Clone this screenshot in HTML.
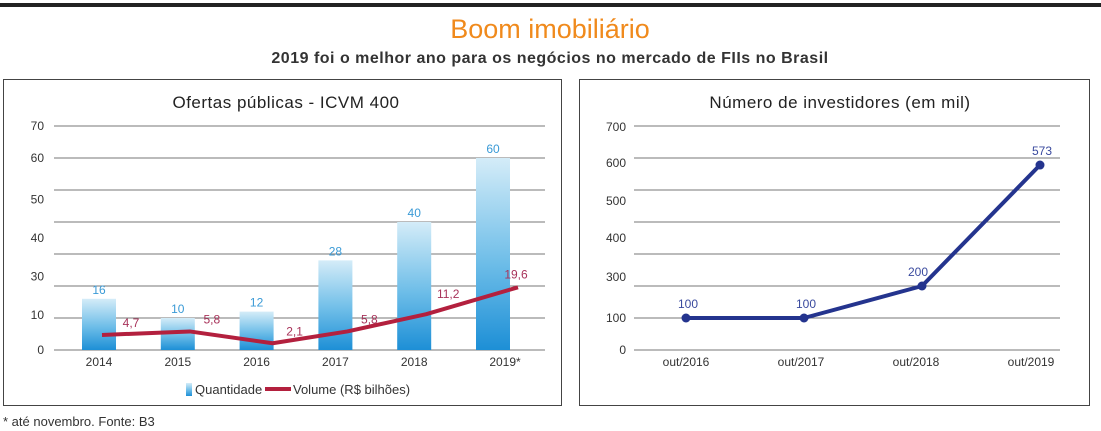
<!DOCTYPE html>
<html><head><meta charset="utf-8"><style>
body{margin:0;background:#fff;width:1101px;height:431px;overflow:hidden;font-family:"Liberation Sans",sans-serif}
svg{display:block}
text{font-family:"Liberation Sans",sans-serif}
</style></head><body>
<svg width="1101" height="431">
<defs>
<linearGradient id="bg" x1="0" y1="0" x2="0" y2="1"><stop offset="0" stop-color="#d4ecf8"/><stop offset="0.55" stop-color="#6dbde8"/><stop offset="1" stop-color="#1d8fd6"/></linearGradient>
</defs>
<rect x="0" y="3" width="1101" height="4" fill="#222"/>
<text x="550" y="38" text-anchor="middle" font-size="27" fill="#f08a1c">Boom imobiliário</text>
<text x="550" y="63" text-anchor="middle" font-size="16" font-weight="bold" fill="#333" letter-spacing="0.5">2019 foi o melhor ano para os negócios no mercado de FIIs no Brasil</text>
<rect x="3.5" y="79.5" width="558" height="326" fill="none" stroke="#444"/>
<rect x="579.5" y="79.5" width="510" height="326" fill="none" stroke="#444"/>
<text x="286" y="108" text-anchor="middle" font-size="17" fill="#222" letter-spacing="0.5">Ofertas públicas - ICVM 400</text>
<text x="840" y="108" text-anchor="middle" font-size="17" fill="#222" letter-spacing="0.5">Número de investidores (em mil)</text>
<g id="left"></g><g id="right"></g>
<rect x="186" y="383" width="6" height="13" fill="url(#bg)"/>
<text x="195" y="394" font-size="13" fill="#333">Quantidade</text>
<rect x="265" y="387" width="26" height="4" fill="#b3203e"/>
<text x="293" y="394" font-size="13" fill="#333">Volume (R$ bilhões)</text>
<text x="3" y="426" font-size="13" fill="#333">* até novembro. Fonte: B3</text>
</svg>
<script>
const years=["2014","2015","2016","2017","2018","2019*"];
const quantidade=[16,10,12,28,40,60];
const volume=[4.7,5.8,2.1,5.8,11.2,19.6];
const volumeLabels=["4,7","5,8","2,1","5,8","11,2","19,6"];
const leftTickLabels=["0","10","30","40","50","60","70"];
const leftTickLabelVals=[0,11,23,35,47,60,70];
const leftGrid=[0,10,20,30,40,50,60,70];
const dates=["out/2016","out/2017","out/2018","out/2019"];
const investidores=[100,100,200,573];
const invLabels=["100","100","200","573"];
const invPlot=[100,100,200,578];
const rightTickLabels=["0","100","300","400","500","600","700"];
const rightTickLabelVals=[0,100,228,350,466,584,697];
const rightGrid=[0,100,200,300,400,500,600,700];
const NS="http://www.w3.org/2000/svg";
function mk(p,t,a,txt){const e=document.createElementNS(NS,t);for(const k in a)e.setAttribute(k,a[k]);if(txt!==undefined)e.textContent=txt;p.appendChild(e);return e;}
// left
const L=document.getElementById('left');
const ly=v=>350-v*3.2;
const lx=i=>99+i*78.8;
leftGrid.forEach(v=>{const g=mk(L,'line',{x1:54,x2:545,y1:ly(v),y2:ly(v),stroke:'#777','stroke-width':1});

});
leftTickLabels.forEach((s,i)=>{const t=mk(L,'text',{x:44,y:ly(leftTickLabelVals[i])+4,'text-anchor':'end','font-size':12,fill:'#333'},s);

});
years.forEach((y,i)=>{
const b=mk(L,'rect',{x:lx(i)-17,y:ly(quantidade[i]),width:34,height:quantidade[i]*3.2,fill:'url(#bg)'});


const q=mk(L,'text',{x:lx(i),y:ly(quantidade[i])-5,'text-anchor':'middle','font-size':12,fill:'#3a9ad6'},String(quantidade[i]));


const t=mk(L,'text',{x:lx(i)+(i==5?12:0),y:366,'text-anchor':'middle','font-size':12,fill:'#333'},y);

});
const vx=i=>i==0?102:lx(i)+(i==5?25:i==2?16:12);
const pts=volume.map((v,i)=>vx(i)+','+ly(v)).join(' ');
const pl=mk(L,'polyline',{points:pts,fill:'none',stroke:'#b3203e','stroke-width':4,'stroke-linejoin':'round'});


volume.forEach((v,i)=>{const t=mk(L,'text',{x:vx(i)+(i==0?29:i==5?-2:22),y:ly(v)-(i==5?9:i==4?16:8),'text-anchor':'middle','font-size':12,fill:'#a8335a'},volumeLabels[i]);

});
// right
const R=document.getElementById('right');
const ry=v=>350-v*0.32;
const rx=i=>686+i*118;
rightGrid.forEach(v=>{const g=mk(R,'line',{x1:634,x2:1060,y1:ry(v),y2:ry(v),stroke:'#777','stroke-width':1});

});
rightTickLabels.forEach((s,i)=>{const t=mk(R,'text',{x:626,y:ry(rightTickLabelVals[i])+4,'text-anchor':'end','font-size':12,fill:'#333'},s);

});
const rp=mk(R,'polyline',{points:invPlot.map((v,i)=>rx(i)+','+ry(v)).join(' '),fill:'none',stroke:'#24348e','stroke-width':4,'stroke-linejoin':'round'});


dates.forEach((d,i)=>{
const c=mk(R,'circle',{cx:rx(i),cy:ry(invPlot[i]),r:4.5,fill:'#24348e'});


const t=mk(R,'text',{x:rx(i)+(i==2?-4:2),y:ry(invPlot[i])-10,'text-anchor':'middle','font-size':12,fill:'#3a4a9e'},invLabels[i]);


const x=mk(R,'text',{x:rx(i)-(i*3),y:366,'text-anchor':'middle','font-size':12,fill:'#333'},d);

});
</script>
</body></html>
